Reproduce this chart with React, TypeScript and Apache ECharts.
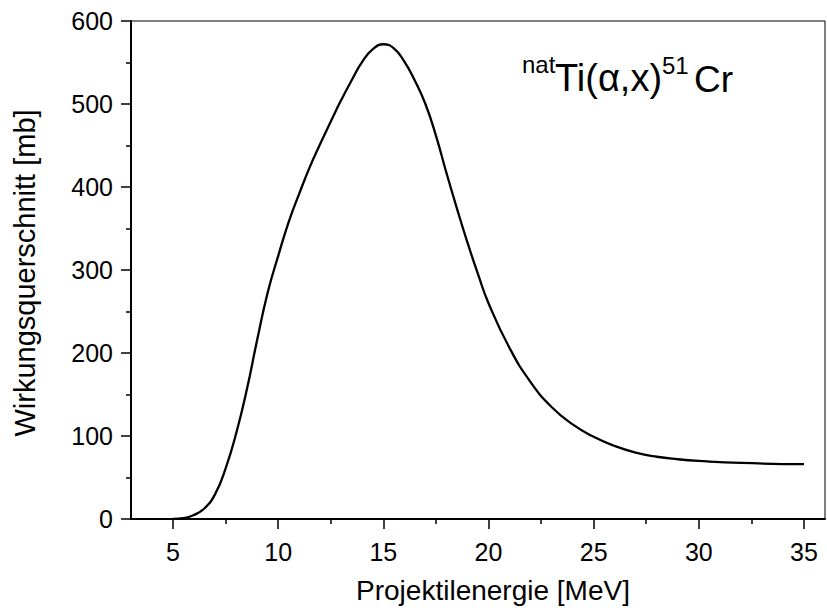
import React, { useEffect, useRef } from "react";
import * as echarts from "echarts";

// Projectile energy [MeV]
const energy = [
  5, 5.5, 6, 6.5, 7, 7.5, 8, 8.5, 9, 9.5, 10, 10.5, 11, 11.5, 12, 12.5, 13, 13.5, 14, 14.5,
  15, 15.5, 16, 16.5, 17, 17.5, 18, 18.5, 19, 19.5, 20, 21, 22, 23, 24, 25, 26, 27, 28, 29,
  30, 32, 35,
];
// Cross section [mb]
const crossSection = [
  0, 1, 5, 13, 30, 61, 103, 155, 216, 273, 317, 358, 392, 424, 452, 479, 505, 529, 551, 566,
  572, 567, 551, 528, 500, 462, 417, 374, 333, 295, 260, 206, 165, 135, 114, 99, 88, 80, 75, 72,
  70, 67.5, 66,
];
const xMajorTicks = [5, 10, 15, 20, 25, 30, 35];
const xMinorTicks = [7.5, 12.5, 17.5, 22.5, 27.5, 32.5];

const FONT = "'Liberation Sans', Arial, Helvetica, sans-serif";

export default function App() {
  const ref = useRef<HTMLDivElement>(null);
  useEffect(() => {
    const chart = echarts.init(ref.current!, null, { renderer: "svg" });
    const points = energy.map((e, i) => [e, crossSection[i]]);
    const txt = (text: string, x: number, y: number, fontSize: number, extra: any = {}) => ({
      type: "text",
      x,
      y,
      ...extra,
      style: {
        text,
        fontSize,
        fontFamily: FONT,
        fill: "#000",
        align: extra.align || "left",
        textAlign: extra.align || "left",
        verticalAlign: "middle",
        textVerticalAlign: "middle",
      },
    });
    chart.setOption({
      animation: false,
      backgroundColor: "#fff",
      grid: {
        left: 131,
        right: 2,
        top: 21,
        bottom: 93,
        show: true,
        borderColor: "#000",
        borderWidth: 1,
        backgroundColor: "transparent",
        containLabel: false,
      },
      xAxis: [
        {
          type: "value",
          min: 3,
          max: 36,
          axisLine: { show: true, onZero: false, lineStyle: { color: "#000", width: 2 } },
          axisTick: {
            show: true,
            inside: false,
            length: 10,
            customValues: xMajorTicks,
            lineStyle: { color: "#000", width: 1.5 },
          },
          axisLabel: {
            show: true,
            customValues: xMajorTicks,
            color: "#000",
            fontSize: 25,
            fontFamily: FONT,
            margin: 20,
          },
          splitLine: { show: false },
        },
        {
          type: "value",
          min: 3,
          max: 36,
          position: "bottom",
          axisLine: { show: false },
          axisTick: {
            show: true,
            inside: false,
            length: 5,
            customValues: xMinorTicks,
            lineStyle: { color: "#000", width: 1.5 },
          },
          axisLabel: { show: false },
          splitLine: { show: false },
        },
      ],
      yAxis: {
        type: "value",
        min: 0,
        max: 600,
        interval: 100,
        axisLine: { show: true, lineStyle: { color: "#000", width: 2 } },
        axisTick: { show: true, inside: false, length: 10, lineStyle: { color: "#000", width: 1.5 } },
        minorTick: { show: true, splitNumber: 2, length: 5, lineStyle: { color: "#000", width: 1.5 } },
        axisLabel: { color: "#000", fontSize: 25, fontFamily: FONT, margin: 18 },
        splitLine: { show: false },
        minorSplitLine: { show: false },
      },
      series: [
        {
          type: "line",
          xAxisIndex: 0,
          data: points,
          showSymbol: false,
          smooth: 0.5,
          lineStyle: { color: "#000", width: 2.3 },
        },
      ],
      graphic: [
        txt("Projektilenergie [MeV]", 493, 590, 28, { align: "center" }),
        txt("Wirkungsquerschnitt [mb]", 25, 273, 29, { align: "center", rotation: Math.PI / 2 }),
        txt("nat", 522, 64, 24),
        txt("Ti(\u03b1,x)", 555, 78, 38),
        txt("51", 662, 65, 24),
        txt("Cr", 694, 79, 37),
      ],
    });
    return () => chart.dispose();
  }, []);
  return (
    <div
      ref={ref}
      style={{ position: "fixed", left: 0, top: 0, width: 827, height: 612, background: "#fff" }}
    />
  );
}
